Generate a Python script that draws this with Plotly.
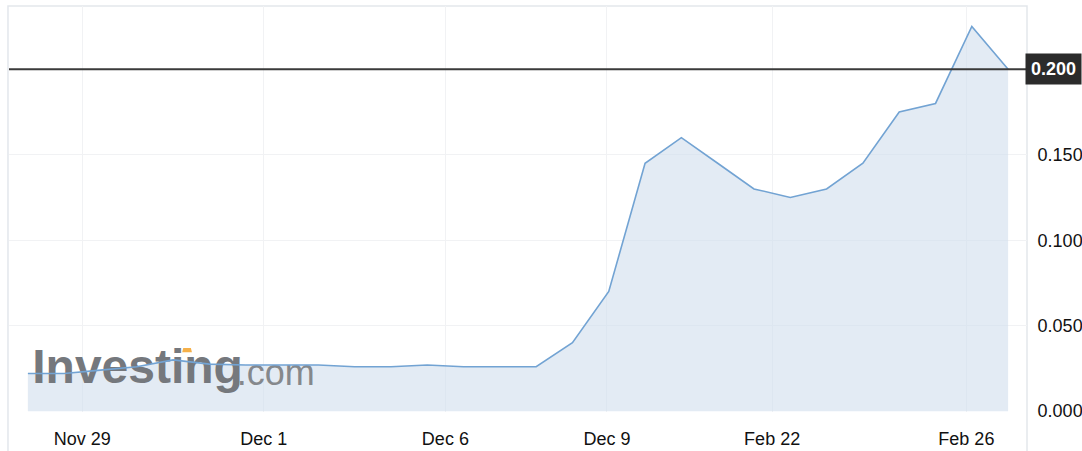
import plotly.graph_objects as go

idx = list(range(28))
price = [0.022, 0.022, 0.024, 0.026, 0.030, 0.0275, 0.027, 0.027, 0.027, 0.026,
         0.026, 0.027, 0.026, 0.026, 0.026, 0.040, 0.070, 0.145, 0.160, 0.145,
         0.130, 0.125, 0.130, 0.145, 0.175, 0.180, 0.225, 0.200]
last_price = 0.200
tick_pos = [1.5, 6.5, 11.5, 15.95, 20.5, 25.85]
tick_labels = ["Nov 29", "Dec 1", "Dec 6", "Dec 9", "Feb 22", "Feb 26"]
y_ticks = [0.0, 0.05, 0.10, 0.15]
y_tick_labels = ["0.000", "0.050", "0.100", "0.150"]

LINE = "#72a3d3"
FILL = "rgba(208,222,236,0.6)"
FONT = "Liberation Sans, Arial, sans-serif"

fig = go.Figure()
# area fill
fig.add_trace(go.Scatter(x=idx, y=price, mode="lines", line=dict(width=0, color=LINE),
                         fill="tozeroy", fillcolor=FILL, hoverinfo="skip", showlegend=False))
# watermark (drawn under the line)
fig.add_trace(go.Scatter(x=[0.12], y=[0.0235], mode="text", text=["<b>Investing</b>"],
                         textposition="middle right",
                         textfont=dict(family=FONT, size=48, color="#75787d"),
                         hoverinfo="skip", showlegend=False))
fig.add_trace(go.Scatter(x=[5.75], y=[0.0205], mode="text", text=[".com"],
                         textposition="middle right",
                         textfont=dict(family=FONT, size=36, color="#85888c"),
                         hoverinfo="skip", showlegend=False))
# price line
fig.add_trace(go.Scatter(x=idx, y=price, mode="lines", line=dict(width=1.6, color=LINE),
                         showlegend=False))

# last price line
fig.add_shape(type="line", xref="paper", yref="y", x0=0, x1=1.0, y0=last_price, y1=last_price,
              line=dict(color="#3a3a3a", width=2))
# outer frame
fig.add_shape(type="rect", xref="paper", yref="paper", x0=-0.001, x1=1.0, y0=-0.2, y1=1.0,
              line=dict(color="#e3e7ec", width=1.5), layer="below")
# orange accent on the "i" of the watermark
fig.add_shape(type="path", xref="x", yref="y",
              path="M 4.25 0.0345 L 4.52 0.0345 L 4.49 0.0370 L 4.28 0.0370 Z",
              fillcolor="#f5b04a", line=dict(width=0), layer="above")

fig.add_annotation(x=1.0, xref="paper", y=last_price, yref="y", xanchor="left", yanchor="middle",
                   text="<b>0.200</b>", showarrow=False, bgcolor="#2b2b2b",
                   font=dict(family=FONT, size=18, color="white"),
                   borderpad=5, xshift=-2)

fig.update_layout(
    width=1082, height=451,
    margin=dict(l=9, r=55, t=6, b=39, autoexpand=False),
    paper_bgcolor="white", plot_bgcolor="white",
    font=dict(family=FONT, size=18, color="#111"),
    xaxis=dict(range=[-0.52, 27.52], tickmode="array", tickvals=tick_pos, ticktext=tick_labels,
               showgrid=True, gridcolor="#f1f2f4", gridwidth=1, zeroline=False, automargin=False,
               showline=False, ticks="outside", ticklen=10, tickcolor="rgba(0,0,0,0)",
               tickfont=dict(size=18, color="#111")),
    yaxis=dict(range=[-0.0005, 0.237], side="right", tickmode="array", tickvals=y_ticks + [0.2],
               ticktext=y_tick_labels + [""], automargin=False,
               showgrid=True, gridcolor="#f1f2f4", gridwidth=1, zeroline=False,
               showline=False, ticks="outside", ticklen=6, tickcolor="rgba(0,0,0,0)",
               tickfont=dict(size=18, color="#111")),
)

fig.write_html("out.html", config={"displayModeBar": False},
               post_script="document.body.style.margin='0';")
